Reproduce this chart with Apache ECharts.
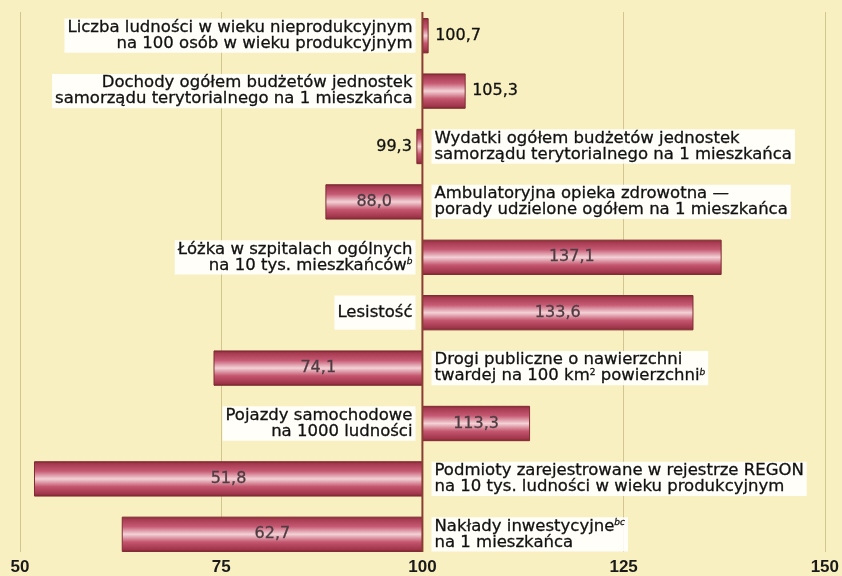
<!DOCTYPE html>
<html>
<head>
<meta charset="utf-8">
<script src="https://cdn.jsdelivr.net/npm/echarts@6/dist/echarts.min.js"></script>
<style>
html,body{margin:0;padding:0;background:#f9f0c1;}
#chart{width:842px;height:576px;}
</style>
</head>
<body>
<div id="chart"></div>
<script>
// ---- data ----
const categories = [
  'Liczba ludności w wieku nieprodukcyjnym\nna 100 osób w wieku produkcyjnym',
  'Dochody ogółem budżetów jednostek\nsamorządu terytorialnego na 1 mieszkańca',
  'Wydatki ogółem budżetów jednostek\nsamorządu terytorialnego na 1 mieszkańca',
  'Ambulatoryjna opieka zdrowotna —\nporady udzielone ogółem na 1 mieszkańca',
  'Łóżka w szpitalach ogólnych\nna 10 tys. mieszkańców{sup|b}',
  'Lesistość',
  'Drogi publiczne o nawierzchni\ntwardej na 100 km{sup2|2} powierzchni{sup|b}',
  'Pojazdy samochodowe\nna 1000 ludności',
  'Podmioty zarejestrowane w rejestrze REGON\nna 10 tys. ludności w wieku produkcyjnym',
  'Nakłady inwestycyjne{sup|bc}\nna 1 mieszkańca'
];
const values = [100.7, 105.3, 99.3, 88.0, 137.1, 133.6, 74.1, 113.3, 51.8, 62.7];
const axisMin = 50, axisMax = 150, axisInterval = 25;
const baseline = 100;

// ---- chart ----
const chart = echarts.init(document.getElementById('chart'), null, {renderer: 'canvas'});
const FONT = '"DejaVu Sans", "Liberation Sans", Arial, sans-serif';
const AXFONT = '"Liberation Sans", Arial, Helvetica, sans-serif';
const FS = 16.5;

function fmt(v) { return v.toFixed(1).replace('.', ','); }

const barFill = new echarts.graphic.LinearGradient(0, 0, 0, 1, [
  {offset: 0, color: '#7a2630'},
  {offset: 0.07, color: '#a5394f'},
  {offset: 0.28, color: '#c65a74'},
  {offset: 0.5, color: '#f3d2d6'},
  {offset: 0.72, color: '#c4566f'},
  {offset: 0.93, color: '#9f344a'},
  {offset: 1, color: '#76242d'}
]);

function renderItem(params, api) {
  const v = api.value(0);
  const idx = api.value(1);
  const p0 = api.coord([baseline, idx]);
  const p1 = api.coord([v, idx]);
  const band = api.size([0, 1])[1];
  const h = band * 0.62;
  const xL = Math.min(p0[0], p1[0]);
  const w = Math.abs(p1[0] - p0[0]);
  const cy = p0[1];
  const diff = v - baseline;
  const inside = Math.abs(diff) > 10;
  const children = [];
  children.push({
    type: 'rect',
    shape: {x: xL, y: cy - h / 2, width: w, height: h},
    style: {fill: barFill, stroke: '#7e2c33', lineWidth: 1}
  });
  // value label
  let vx, valign, vfill;
  if (inside) { vx = (p0[0] + p1[0]) / 2; valign = 'center'; vfill = '#4e3c42'; }
  else if (diff >= 0) { vx = p1[0] + 7; valign = 'left'; vfill = '#111'; }
  else { vx = p1[0] - 5; valign = 'right'; vfill = '#111'; }
  children.push({
    type: 'text', x: vx, y: cy,
    style: {text: fmt(v), fill: vfill, fontSize: 16, fontFamily: FONT,
            stroke: vfill, lineWidth: 0.3,
            align: valign, verticalAlign: 'middle'}
  });
  // category label
  const txt = categories[idx];
  const lines = txt.split('\n').length;
  const padV = Math.max(1, (h - lines * 16) / 2);
  const cx = diff >= 0 ? p0[0] - 7 : p0[0] + 9;
  const calign = diff >= 0 ? 'right' : 'left';
  children.push({
    type: 'text', x: cx, y: cy,
    style: {
      text: txt, fill: '#111', fontSize: FS, fontFamily: FONT, lineHeight: 16,
      stroke: '#111', lineWidth: 0.3,
      align: calign, verticalAlign: 'middle',
      backgroundColor: 'rgba(255,255,255,0.88)', padding: [padV, 3, padV, 3],
      rich: {
        sup: {fontSize: 9, fontStyle: 'italic', fontFamily: FONT, fill: '#111', verticalAlign: 'top', lineHeight: 9, align: calign},
        sup2: {fontSize: 9, fontFamily: FONT, fill: '#111', verticalAlign: 'top', lineHeight: 9, align: calign}
      }
    }
  });
  return {type: 'group', children: children};
}

const option = {
  backgroundColor: '#f9f0c1',
  animation: false,
  grid: [
    {left: 20, right: 17, top: 12, bottom: 21},
    {left: 20, right: 17, top: 8, bottom: 14}
  ],
  xAxis: [
    {
      type: 'value', gridIndex: 0, min: axisMin, max: axisMax, interval: axisInterval,
      axisLine: {show: false}, axisTick: {show: false},
      axisLabel: {fontSize: 17, fontWeight: 'bold', color: '#1a1a1a', fontFamily: AXFONT, margin: 7},
      splitLine: {show: true, lineStyle: {color: '#d2c58e', width: 1}}
    },
    {
      type: 'value', gridIndex: 1, min: axisMin, max: axisMax, interval: axisInterval,
      show: false, splitLine: {show: false}
    }
  ],
  yAxis: [
    {type: 'value', gridIndex: 0, min: 0, max: 1, show: false, splitLine: {show: false}},
    {type: 'category', gridIndex: 1, inverse: true, data: categories.map((c, i) => i), show: false}
  ],
  series: [
    {
      type: 'custom', xAxisIndex: 1, yAxisIndex: 1, z: 3,
      renderItem: renderItem,
      encode: {x: 0, y: 1},
      data: values.map((v, i) => [v, i]),
      clip: false
    },
    {
      type: 'line', xAxisIndex: 0, yAxisIndex: 0, z: 5, silent: true,
      symbol: 'none',
      lineStyle: {color: '#8a3d33', width: 2},
      data: [[baseline, 0], [baseline, 1]]
    }
  ]
};
chart.setOption(option);
</script>
</body>
</html>
